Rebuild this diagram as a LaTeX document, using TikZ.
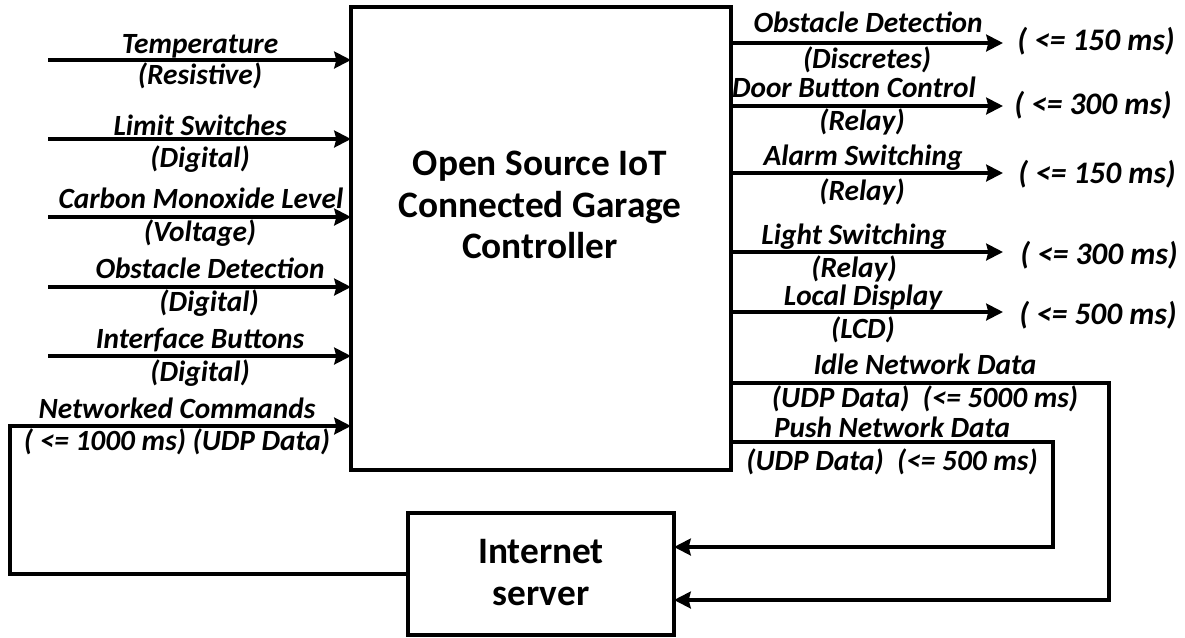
\documentclass[tikz,border=0pt]{standalone}
\usepackage{fontspec}
\setmainfont{Carlito}
\usetikzlibrary{arrows.meta}
\begin{document}
\begin{tikzpicture}[x=0.75pt,y=-0.75pt,
  wire/.style={line width=3pt, line cap=butt},
  sig/.style={wire, -{Stealth[length=12.5pt,width=12.5pt,inset=1.5pt]}},
  lbl/.style={font=\fontsize{22}{26}\selectfont\bfseries\itshape, inner sep=0pt, anchor=base},
  tlbl/.style={lbl, font=\fontsize{23.5}{28}\selectfont\bfseries\itshape},
  block/.style={draw, line width=3pt, inner sep=0pt, outer sep=0pt},
  title/.style={font=\fontsize{28}{33}\selectfont\bfseries, inner sep=0pt, anchor=base}
]
\useasboundingbox (0,0) rectangle (1185,637);

% blocks
\node[block, minimum width=285pt, minimum height=347.25pt] (ctrl) at (541,238.5) {};
\node[title] (ct1) at (540,175) {Open Source IoT};
\node[title] (ct2) at (540,217) {Connected Garage};
\node[title] (ct3) at (540,258) {Controller};

\node[block, minimum width=199.5pt, minimum height=91.5pt] (srv) at (541,574) {};
\node[title] (st1) at (541,563) {Internet};
\node[title] (st2) at (541,605) {server};

% inputs
\coordinate (i1) at (48,60);
\coordinate (i2) at (48,139);
\coordinate (i3) at (48,217);
\coordinate (i4) at (48,287);
\coordinate (i5) at (48,356);
\foreach \c in {i1,i2,i3,i4,i5} \draw[sig] (\c) -- (\c -| ctrl.west);

\node[lbl] (la1) at (200,53) {Temperature};
\node[lbl] (lb1) at (200,84) {(Resistive)};
\node[lbl] (la2) at (200,135) {Limit Switches};
\node[lbl] (lb2) at (200,167) {(Digital)};
\node[lbl] (la3) at (201,208) {Carbon Monoxide Level};
\node[lbl] (lb3) at (200,241) {(Voltage)};
\node[lbl] (la4) at (210,278) {Obstacle Detection};
\node[lbl] (lb4) at (209,311) {(Digital)};
\node[lbl] (la5) at (200,348) {Interface Buttons};
\node[lbl] (lb5) at (200,381) {(Digital)};
\node[lbl] (la6) at (177,418) {Networked Commands};
\node[lbl] (lb6) at (177,450) {( <= 1000 ms) (UDP Data)};

% networked commands loop from the server
\coordinate (nc) at (10,426);
\draw[sig] (srv.west) -| (nc) -- (nc -| ctrl.west);

% outputs
\coordinate (o1) at (1003,43);
\coordinate (o2) at (1003,106);
\coordinate (o3) at (1003,173);
\coordinate (o4) at (1003,252);
\coordinate (o5) at (1003,312);
\foreach \c in {o1,o2,o3,o4,o5} \draw[sig] (\c -| ctrl.east) -- (\c);

\node[lbl] (ra1) at (868,32) {Obstacle Detection};
\node[lbl] (rb1) at (867,68) {(Discretes)};
\node[lbl] (ra2) at (854,97) {Door Button Control};
\node[lbl] (rb2) at (862,130) {(Relay)};
\node[lbl] (ra3) at (863,165) {Alarm Switching};
\node[lbl] (rb3) at (862,200) {(Relay)};
\node[lbl] (ra4) at (854,244) {Light Switching};
\node[lbl] (rb4) at (854,277) {(Relay)};
\node[lbl] (ra5) at (863,305) {Local Display};
\node[lbl] (rb5) at (863,338) {(LCD)};

\node[tlbl] (rt1) at (1096,50) {( <= 150 ms)};
\node[tlbl] (rt2) at (1093,114) {( <= 300 ms)};
\node[tlbl] (rt3) at (1097,183) {( <= 150 ms)};
\node[tlbl] (rt4) at (1099,264) {( <= 300 ms)};
\node[tlbl] (rt5) at (1098,324) {( <= 500 ms)};

% network data to the server
\coordinate (idle) at (1109,383);
\coordinate (idleb) at (1109,600);
\draw[sig] (idle -| ctrl.east) -- (idle) -- (idleb) -- (idleb -| srv.east);
\node[lbl] (na1) at (925,374) {Idle Network Data};
\node[lbl] (nb1) at (925,407) {(UDP Data)\ \ (<= 5000 ms)};

\coordinate (push) at (1053,442);
\coordinate (pushb) at (1053,547);
\draw[sig] (push -| ctrl.east) -- (push) -- (pushb) -- (pushb -| srv.east);
\node[lbl] (na2) at (892,437) {Push Network Data};
\node[lbl] (nb2) at (892,470) {(UDP Data)\ \ (<= 500 ms)};
\end{tikzpicture}
\end{document}
